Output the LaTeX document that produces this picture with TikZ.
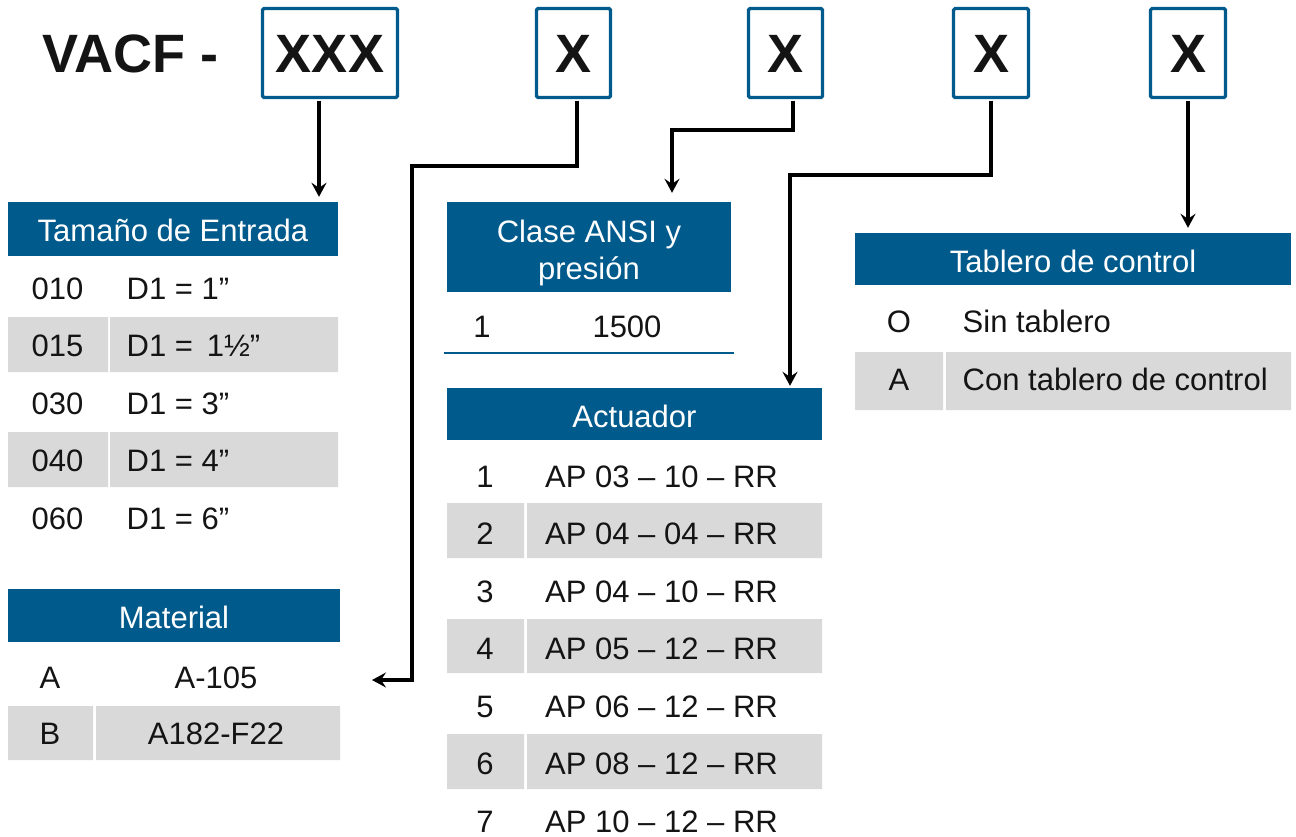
\documentclass[tikz,border=0pt]{standalone}
\usepackage{fontspec}
\setmainfont{Liberation Sans}
\usetikzlibrary{arrows.meta}
\definecolor{hdrblue}{HTML}{005A8C}
\definecolor{rowgray}{HTML}{D9D9D9}
\definecolor{ink}{HTML}{141414}

\begin{document}
\begin{tikzpicture}[x=1pt,y=-1pt,
  codebox/.style={draw=hdrblue, line width=3.2pt, rounded corners=1.5pt,
    minimum height=89pt, inner sep=0pt, text=ink,
    font=\fontsize{54}{60}\selectfont\bfseries, text height=38.7pt, text depth=0pt},
  hdr/.style={fill=hdrblue, text=white, inner sep=0pt,
    font=\fontsize{31}{37}\selectfont, text height=22.2pt, text depth=0pt},
  hdrtxt/.style={text=white, inner sep=0pt, anchor=base,
    font=\fontsize{31}{37}\selectfont},
  cell/.style={inner sep=0pt, text=ink,
    font=\fontsize{31}{37}\selectfont, text height=22.2pt, text depth=0pt},
  celll/.style={cell, anchor=west},
  conn/.style={draw=black, line width=3.4pt, shorten <=1.6pt,
    -{Stealth[length=14pt,width=15pt,inset=5pt]}},
]
\useasboundingbox (0,0) rectangle (1296,836);

% ---- code line ----
\node[inner sep=0pt, anchor=west, text=ink,
  font=\fontsize{54}{60}\selectfont\bfseries, text height=38.7pt, text depth=0pt]
  (title) at (42,53) {VACF -};
\node[codebox, minimum width=135pt] (bxA) at (330,53) {XXX};
\node[codebox, minimum width=74pt] (bxB) at (573.5,53) {X};
\node[codebox, minimum width=74pt] (bxC) at (785.5,53) {X};
\node[codebox, minimum width=75pt] (bxD) at (991,53) {X};
\node[codebox, minimum width=75pt] (bxE) at (1188,53) {X};

% ---- Tamaño de Entrada ----
\node[hdr, minimum width=330pt, minimum height=54pt] (hTam) at (173,229) {\raisebox{-1.5pt}{Tamaño de Entrada}};
\fill[rowgray] (8,317) rectangle (108,372) (110,317) rectangle (338,372);
\fill[rowgray] (8,432) rectangle (108,487) (110,432) rectangle (338,487);
\node[cell] (t1a) at (57.5,288) {010};   \node[celll] (t1b) at (126.5,288) {D1 = 1”};
\node[cell] (t2a) at (57.5,345.5) {015}; \node[celll] (t2b) at (126.5,345.5) {D1 = \,1½”};
\node[cell] (t3a) at (57.5,403) {030};   \node[celll] (t3b) at (126.5,403) {D1 = 3”};
\node[cell] (t4a) at (57.5,460.5) {040}; \node[celll] (t4b) at (126.5,460.5) {D1 = 4”};
\node[cell] (t5a) at (57.5,518) {060};   \node[celll] (t5b) at (126.5,518) {D1 = 6”};

% ---- Material ----
\node[hdr, minimum width=332pt, minimum height=53pt] (hMat) at (174,615.5) {\raisebox{-2pt}{Material}};
\fill[rowgray] (8,706) rectangle (93,760) (96,706) rectangle (340,760);
\node[cell] (m1a) at (50,677) {A};   \node[cell] (m1b) at (216,677) {A-105};
\node[cell] (m2a) at (50,733.5) {B}; \node[cell] (m2b) at (216,733.5) {A182-F22};
\coordinate (matIn) at (372,680);

% ---- Clase ANSI y presión ----
\node[fill=hdrblue, inner sep=0pt, minimum width=284pt, minimum height=90pt] (hAnsi) at (589,247) {};
\node[hdrtxt] (hAnsiA) at (589,242) {Clase ANSI y};
\node[hdrtxt] (hAnsiB) at (589,279) {presión};
\node[cell] (a1a) at (482,326) {1}; \node[cell] (a1b) at (627,326) {1500};
\draw[hdrblue, line width=2.5pt] (444,353) -- (734,353);

% ---- Actuador ----
\node[hdr, minimum width=375pt, minimum height=52pt] (hAct) at (634.5,414) {\raisebox{-2pt}{Actuador}};
\fill[rowgray] (447,503) rectangle (524,558) (527,503) rectangle (822,558);
\fill[rowgray] (447,619) rectangle (524,673) (527,619) rectangle (822,673);
\fill[rowgray] (447,734) rectangle (524,789) (527,734) rectangle (822,789);
\node[cell] (c1a) at (485,476)   {1}; \node[celll] (c1b) at (545,476)   {AP 03 – 10 – RR};
\node[cell] (c2a) at (485,533.5) {2}; \node[celll] (c2b) at (545,533.5) {AP 04 – 04 – RR};
\node[cell] (c3a) at (485,591)   {3}; \node[celll] (c3b) at (545,591)   {AP 04 – 10 – RR};
\node[cell] (c4a) at (485,648.5) {4}; \node[celll] (c4b) at (545,648.5) {AP 05 – 12 – RR};
\node[cell] (c5a) at (485,706)   {5}; \node[celll] (c5b) at (545,706)   {AP 06 – 12 – RR};
\node[cell] (c6a) at (485,763.5) {6}; \node[celll] (c6b) at (545,763.5) {AP 08 – 12 – RR};
\node[cell] (c7a) at (485,821)   {7}; \node[celll] (c7b) at (545,821)   {AP 10 – 12 – RR};

% ---- Tablero de control ----
\node[hdr, minimum width=436pt, minimum height=52pt] (hTab) at (1073,259) {\raisebox{-2.5pt}{Tablero de control}};
\fill[rowgray] (855,352) rectangle (943,410) (946,352) rectangle (1291,410);
\node[cell] (p1a) at (899,321) {O}; \node[celll] (p1b) at (962.5,321) {Sin tablero};
\node[cell] (p2a) at (899,379) {A}; \node[celll] (p2b) at (962.5,379) {Con tablero de control};

% ---- connectors ----
\draw[conn, shorten >=5pt] ([xshift=-11pt]bxA.south) -- ([xshift=146pt]hTam.north);
\draw[conn] ([xshift=3.5pt]bxB.south) |- (412,166) |- (matIn);
\draw[conn, shorten >=9pt] ([xshift=7.5pt]bxC.south) |- (672,130) -- ([xshift=83pt]hAnsi.north);
\draw[conn, shorten >=2pt] (bxD.south) |- (790,175) -- ([xshift=155.5pt]hAct.north);
\draw[conn, shorten >=5pt] (bxE.south) -- (hTab.north -| bxE.south);
\end{tikzpicture}
\end{document}
